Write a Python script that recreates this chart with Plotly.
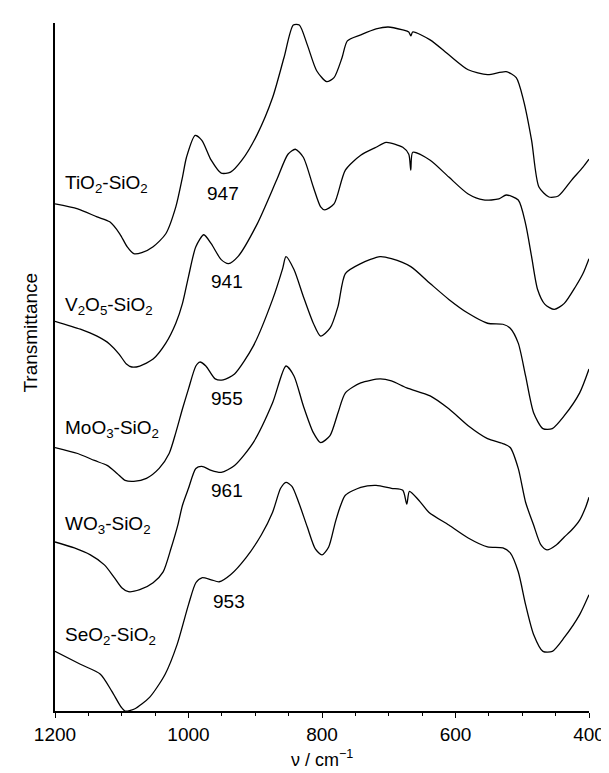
import plotly.graph_objects as go

# wavenumbers (cm^-1) and transmittance (arbitrary units, spectra offset/stacked)
wn_ti = [1200,1166,1137,1118,1103,1092,1082,1070,1053,1034,1019,1009,1003,990,980,966,951,937,920,897,874,857,843,834,822,808,793,782,770,762,742,719,701,679,670,667,664,638,610,581,552,524,509,498,486,475,460,446,426,409,400]
t_ti = [510,505,497,492,480,467,460,461,467,480,507,537,557,579,574,554,541,542,554,580,617,657,690,690,670,644,633,637,657,674,680,686,688,685,683,679,683,675,660,645,640,643,637,614,574,527,517,518,534,547,555]

wn_v = [1200,1162,1137,1118,1104,1093,1085,1073,1053,1034,1019,1009,1000,989,977,966,951,940,926,897,868,851,840,828,813,802,796,782,765,742,719,704,679,670,667,664,638,610,581,558,535,524,506,495,486,477,466,452,437,420,409,400]
t_v = [392,384,377,369,359,349,346,347,354,370,390,410,437,467,479,470,454,450,457,490,534,560,565,557,527,507,504,510,544,559,567,572,567,560,544,562,554,537,520,514,515,519,514,490,457,424,409,404,410,427,440,455]

wn_mo = [1200,1166,1141,1122,1107,1095,1082,1063,1044,1029,1019,1009,1000,989,983,974,960,948,931,903,874,859,854,842,828,813,802,788,776,765,742,713,696,667,638,610,581,552,529,518,506,495,483,469,455,437,414,400]
t_mo = [265,259,252,247,239,232,231,234,244,259,280,304,324,347,351,347,334,333,339,367,414,445,457,444,417,390,377,385,407,440,450,457,455,447,430,414,400,390,389,385,370,337,300,284,284,297,320,344]

wn_w = [1200,1171,1147,1126,1112,1100,1090,1073,1053,1038,1026,1016,1009,1000,989,980,966,951,931,903,874,854,842,828,813,802,788,776,765,742,713,696,673,638,610,581,552,529,518,506,495,483,472,463,449,437,426,414,405,400]
t_w = [170,164,157,147,135,124,120,122,129,140,164,187,207,224,244,246,242,240,247,270,310,347,337,307,280,270,277,300,320,330,334,332,325,317,304,287,274,269,265,244,210,187,167,162,167,175,182,192,205,215]

wn_se = [1200,1162,1132,1115,1101,1095,1081,1058,1035,1017,1000,989,980,966,954,937,914,891,874,862,854,845,835,822,810,800,790,780,772,765,742,719,696,679,673,669,655,640,610,581,552,529,518,506,495,483,469,455,437,414,400]
t_se = [60,47,37,20,4,0,2,14,37,67,107,129,134,132,130,137,154,177,200,224,230,226,210,185,163,157,165,190,207,217,225,227,224,222,208,221,212,200,187,174,165,164,159,140,107,77,60,60,74,97,117]

series = [(wn_ti, t_ti), (wn_v, t_v), (wn_mo, t_mo), (wn_w, t_w), (wn_se, t_se)]

sample_labels = ["TiO<sub>2</sub>-SiO<sub>2</sub>", "V<sub>2</sub>O<sub>5</sub>-SiO<sub>2</sub>",
                 "MoO<sub>3</sub>-SiO<sub>2</sub>", "WO<sub>3</sub>-SiO<sub>2</sub>",
                 "SeO<sub>2</sub>-SiO<sub>2</sub>"]
sample_label_y = [530, 407, 284, 187, 75]

band_labels = ["947", "941", "955", "961", "953"]
band_x = [948, 943, 943, 943, 940]
band_y = [521, 432, 314, 222, 110]

x_ticks = [1200, 1000, 800, 600, 400]

FONT = "Liberation Sans, Arial, Helvetica, sans-serif"

fig = go.Figure()
for wn, t in series:
    fig.add_trace(go.Scatter(x=wn, y=t, mode="lines",
                             line=dict(color="black", width=1.3, shape="spline", smoothing=0.7),
                             showlegend=False, hoverinfo="skip"))

for lab, y in zip(sample_labels, sample_label_y):
    fig.add_annotation(x=1188, y=y, xref="x", yref="y", text=lab, showarrow=False,
                       xanchor="left", yanchor="middle", font=dict(family=FONT, size=19, color="black"))
for lab, x, y in zip(band_labels, band_x, band_y):
    fig.add_annotation(x=x, y=y, xref="x", yref="y", text=lab, showarrow=False,
                       xanchor="center", yanchor="middle", font=dict(family=FONT, size=19, color="black"))

fig.add_annotation(x=-0.045, y=0.55, xref="paper", yref="paper", text="Transmittance",
                   textangle=-90, showarrow=False, xanchor="center", yanchor="middle",
                   font=dict(family=FONT, size=19, color="black"))
fig.add_annotation(x=0.5, y=-0.087, xref="paper", yref="paper", text="ν / cm<sup>−1</sup>",
                   showarrow=False, xanchor="center", yanchor="bottom", borderpad=0,
                   font=dict(family=FONT, size=18, color="black"))

fig.update_layout(width=609, height=773, margin=dict(l=47, r=19, t=15, b=70),
                  plot_bgcolor="white", paper_bgcolor="white",
                  font=dict(family=FONT, size=19, color="black"))
fig.update_xaxes(range=[1200, 400], showline=True, linecolor="black", linewidth=1.5,
                 tickmode="array", tickvals=x_ticks, ticktext=[str(v) for v in x_ticks],
                 ticks="outside", ticklen=5, tickwidth=1.2, tickcolor="black",
                 minor=dict(tickmode="linear", tick0=400, dtick=50, ticks="outside",
                            ticklen=3, tickwidth=1, tickcolor="black"),
                 showgrid=False, zeroline=False,
                 tickfont=dict(family=FONT, size=19, color="black"))
fig.update_yaxes(range=[0, 692], showline=True, linecolor="black", linewidth=1.5,
                 showticklabels=False, ticks="", showgrid=False, zeroline=False)

fig.write_html("out.html")
